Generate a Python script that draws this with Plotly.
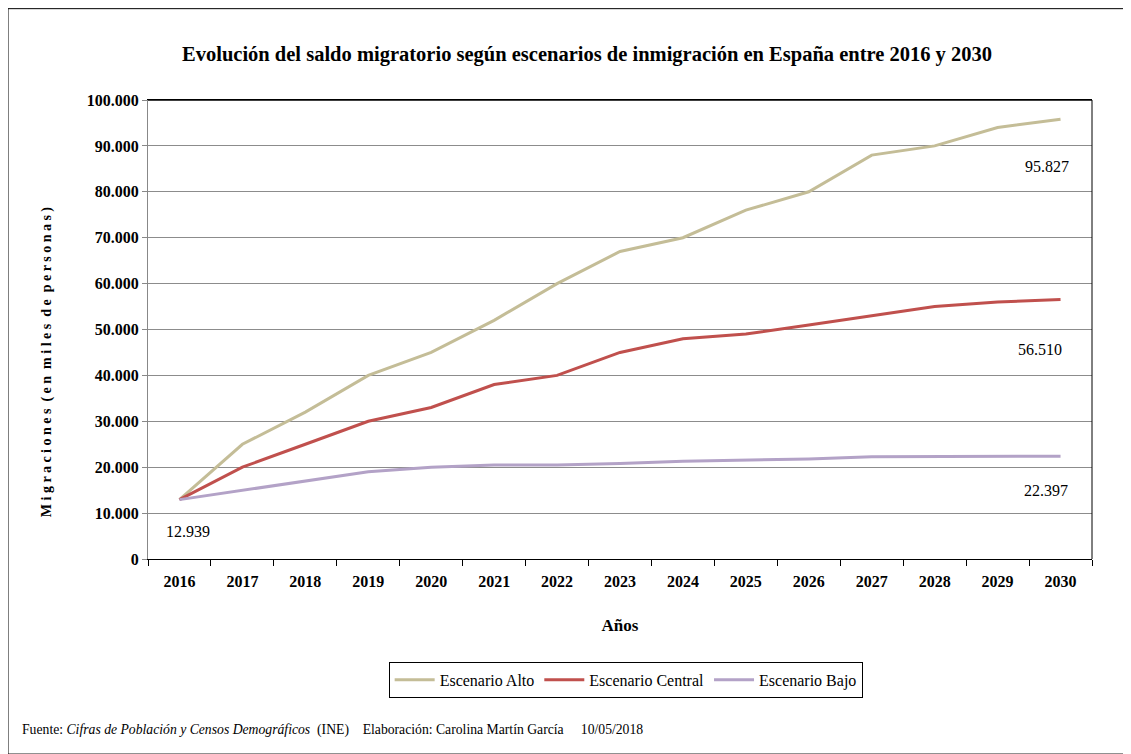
import plotly.graph_objects as go

years = [str(y) for y in range(2016, 2031)]
alto = [12939, 25000, 32000, 40000, 45000, 52000, 60000, 67000, 70000, 76000, 80000, 88000, 90000, 94000, 95827]
central = [12939, 20000, 25000, 30000, 33000, 38000, 40000, 45000, 48000, 49000, 51000, 53000, 55000, 56000, 56510]
bajo = [12939, 15000, 17000, 19000, 20000, 20500, 20500, 20800, 21300, 21500, 21800, 22300, 22350, 22380, 22397]

names = ["Escenario Alto", "Escenario Central", "Escenario Bajo"]
colors = ["#C4BD97", "#C0504D", "#B3A2C7"]

FONT = "Liberation Serif"

fig = go.Figure()
for name, vals, col in zip(names, [alto, central, bajo], colors):
    fig.add_trace(go.Scatter(x=years, y=vals, mode="lines", name=name,
                             line=dict(color=col, width=3)))

last = len(years) - 1
labels = [(0, bajo[0], "12.939", 9, -32),
          (last, alto[-1], "95.827", -14, -47),
          (last, central[-1], "56.510", -21, -50),
          (last, bajo[-1], "22.397", -15, -34)]
for x, y, t, ax, ay in labels:
    fig.add_annotation(x=x, y=y, text=t, showarrow=False, xshift=ax, yshift=ay,
                       font=dict(family=FONT, size=16, color="#000"))

fig.update_layout(
    width=1123, height=746,
    paper_bgcolor="white", plot_bgcolor="white",
    margin=dict(l=140, r=39, t=92, b=195, autoexpand=False),
    separators=",.",
    title=dict(text="<b>Evolución del saldo migratorio según escenarios de inmigración en España entre 2016 y 2030</b>",
               x=0.5156, xanchor="center", y=0.938, yanchor="middle",
               font=dict(family=FONT, size=20.5, color="#000")),
    font=dict(family=FONT, color="#000"),
    showlegend=True,
    legend=dict(orientation="h", x=0.506, xanchor="center", y=-0.224, yanchor="top",
                bordercolor="#000", borderwidth=1, font=dict(family=FONT, size=16, color="#000"),
                itemwidth=40, tracegroupgap=0),
)
fig.update_xaxes(
    type="category", range=[-0.5, len(years) - 0.5],
    tickson="boundaries", ticks="outside", ticklen=6, tickcolor="#000",
    showline=True, linecolor="#000", linewidth=1, mirror=True, showgrid=False,
    automargin=False, tickangle=0, ticklabelstandoff=8,
    tickfont=dict(family=FONT, size=16, color="#000", weight="bold"),
    title=dict(text="<b>Años</b>", font=dict(family=FONT, size=17, color="#000"), standoff=29),
)
fig.update_yaxes(
    range=[0, 100000], dtick=10000, tickformat=",.0f",
    ticks="outside", ticklen=5, tickcolor="#888",
    showline=True, linecolor="#888", linewidth=1, mirror=False,
    showgrid=True, gridcolor="#8c8c8c", gridwidth=1, automargin=False,
    tickfont=dict(family=FONT, size=16, color="#000", weight="bold"),
)
# y-axis title
fig.add_annotation(xref="paper", yref="paper", x=-0.107, y=0.431, textangle=-90,
                   showarrow=False, xanchor="center", yanchor="middle",
                   text="<b>M i g r a c i o n e s  ( e n  m i l e s  d e  p e r s o n a s )</b>",
                   font=dict(family=FONT, size=14, color="#000"))
# top and right plot border in black
fig.add_shape(type="line", xref="paper", yref="paper", x0=0, x1=1, y0=1, y1=1,
              line=dict(color="#000", width=1.5))
fig.add_shape(type="line", xref="paper", yref="paper", x0=1, x1=1, y0=0, y1=1,
              line=dict(color="#000", width=1))
# outer frame
fig.add_shape(type="rect", xref="paper", yref="paper",
              x0=-0.1483, x1=1.039, y0=-0.425, y1=1.199,
              line=dict(color="#000", width=1), layer="below")

fig.add_annotation(xref="paper", yref="paper", x=-0.1356, y=-0.3725, xanchor="left", yanchor="middle",
                   showarrow=False,
                   text="Fuente: <i>Cifras de Población y Censos Demográficos</i>  (INE)    Elaboración: Carolina Martín García     10/05/2018",
                   font=dict(family=FONT, size=13.7, color="#000"))

fig.write_html("out.html")
